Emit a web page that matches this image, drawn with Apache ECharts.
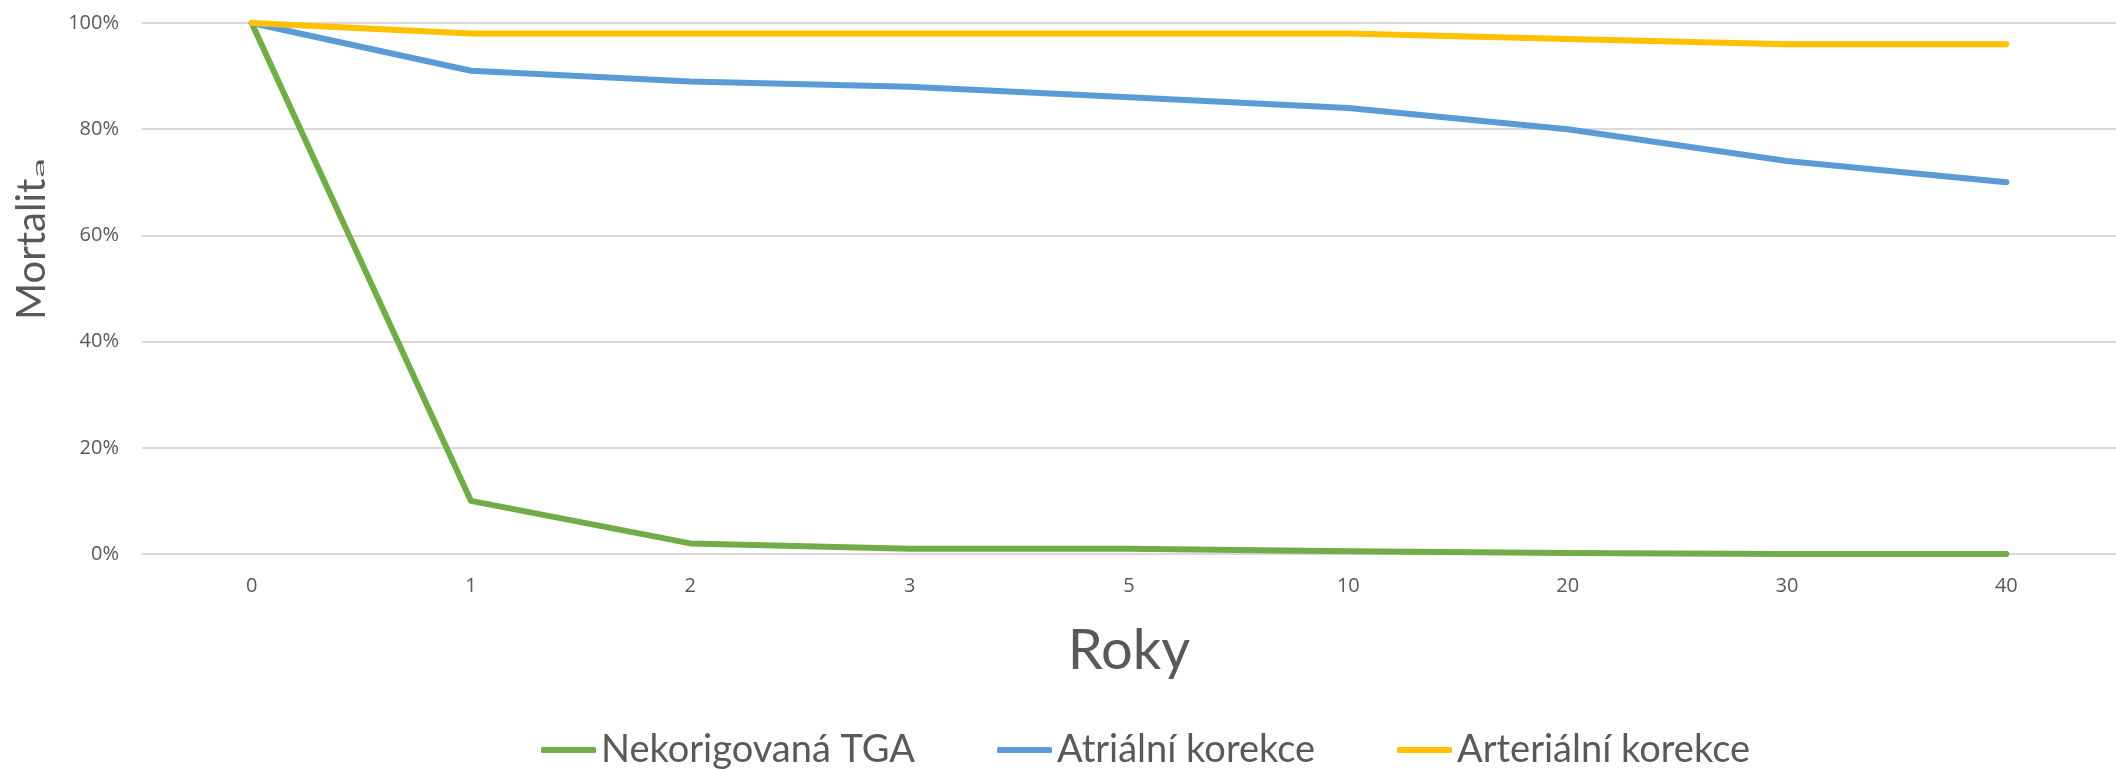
<!DOCTYPE html>
<html>
<head>
<meta charset="utf-8">
<title>Mortalita</title>
<script src="https://cdn.jsdelivr.net/npm/echarts@6/dist/echarts.min.js"></script>
<style>html,body{margin:0;padding:0;background:#fff}</style>
</head>
<body>
<div id="main" style="width:2116px;height:769px;"></div>
<script type="text/javascript">
// roky po operaci
var roky = ['0', '1', '2', '3', '5', '10', '20', '30', '40'];
// mortalita v %
var nekorigovana = [100, 10, 2, 1, 1, 0.5, 0.2, 0, 0];
var atrialni = [100, 91, 89, 88, 86, 84, 80, 74, 70];
var arterialni = [100, 98, 98, 98, 98, 98, 97, 96, 96];
var nazvy = ['Nekorigovaná TGA', 'Atriální korekce', 'Arteriální korekce'];
var barvy = ['#70AD47', '#5B9BD5', '#FFC000'];

var gray = '#595959';
var myChart = echarts.init(document.getElementById('main'));

// sirka textu osy y, aby "a" navazalo hned za "Mortalit"
var titleFont = '40px Lato';
var ctx = document.createElement('canvas').getContext('2d');
ctx.font = titleFont;
var titleW = ctx.measureText('Mortalit').width;

function linka(i, data) {
    return {
        name: nazvy[i],
        type: 'line',
        data: data,
        showSymbol: false,
        symbol: 'none',
        color: barvy[i],
        lineStyle: {width: 6, color: barvy[i], cap: 'round', join: 'round'},
        animation: false
    };
}

myChart.setOption({
    animation: false,
    grid: {left: 142, right: 0, top: 23, bottom: 215, containLabel: false},
    legend: {
        data: nazvy,
        left: 536,
        top: 726,
        icon: 'roundRect',
        itemWidth: 55,
        itemHeight: 6,
        itemGap: 82,
        textStyle: {fontFamily: 'Lato', fontSize: 38, color: gray}
    },
    xAxis: {
        type: 'category',
        data: roky,
        boundaryGap: true,
        name: 'Roky',
        nameLocation: 'middle',
        nameGap: 69,
        nameTextStyle: {fontFamily: 'Lato', fontSize: 56, color: gray},
        axisLine: {show: true, lineStyle: {color: '#D9D9D9', width: 2}},
        axisTick: {show: false},
        axisLabel: {fontFamily: 'Open Sans', fontSize: 20, color: gray, margin: 22}
    },
    yAxis: {
        type: 'value',
        min: 0,
        max: 100,
        interval: 20,
        axisLine: {show: false},
        axisTick: {show: false},
        splitLine: {lineStyle: {color: '#D9D9D9', width: 2}},
        axisLabel: {fontFamily: 'Open Sans', fontSize: 20, color: gray, margin: 23, formatter: '{value}%'}
    },
    graphic: [
        {
            type: 'text', x: 52, y: 320, rotation: Math.PI / 2,
            style: {text: 'Mortalit', font: titleFont, fill: gray, textAlign: 'left', textVerticalAlign: 'bottom'}
        },
        {
            type: 'text', x: 47, y: 320 - titleW - 1, rotation: Math.PI / 2, scaleY: 0.4,
            style: {text: 'a', font: titleFont, fill: gray, textAlign: 'left', textVerticalAlign: 'bottom'}
        }
    ],
    series: [
        linka(0, nekorigovana),
        linka(1, atrialni),
        linka(2, arterialni)
    ]
});
</script>
</body>
</html>
